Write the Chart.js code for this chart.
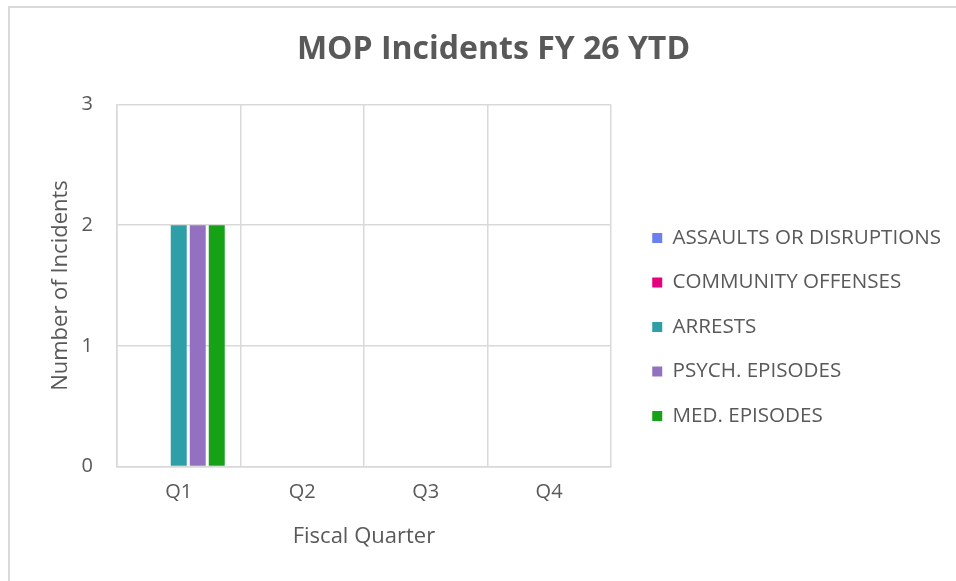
<!DOCTYPE html>
<html>
<head>
<meta charset="utf-8">
<script src="https://cdn.jsdelivr.net/npm/chart.js@4.4.1/dist/chart.umd.min.js"></script>
<style>
  html, body { margin: 0; padding: 0; background: #fff; overflow: hidden; }
  #frame { position: absolute; left: 8px; top: 6px; width: 1200px; height: 800px;
           border-left: 2px solid #d9d9d9; border-top: 2px solid #d9d9d9; }
  #wrap { position: absolute; left: 0; top: 0; width: 956px; height: 581px; }
</style>
</head>
<body>
<div id="frame"></div>
<div id="wrap"><canvas id="chart"></canvas></div>
<script>
// --- Data ---
const quarters = ['Q1', 'Q2', 'Q3', 'Q4'];
const seriesNames = ['ASSAULTS OR DISRUPTIONS', 'COMMUNITY OFFENSES', 'ARRESTS', 'PSYCH. EPISODES', 'MED. EPISODES'];
const assaults = [0, 0, 0, 0];
const communityOffenses = [0, 0, 0, 0];
const arrests = [2, 0, 0, 0];
const psychEpisodes = [2, 0, 0, 0];
const medEpisodes = [2, 0, 0, 0];
const yTicks = [0, 1, 2, 3];

const colors = ['#6a80f0', '#e5007e', '#2e9fa7', '#9471c0', '#17a117'];
const allValues = [assaults, communityOffenses, arrests, psychEpisodes, medEpisodes];

const textColor = '#595959';
const gridColor = '#d9d9d9';
const fontFamily = '"Open Sans", sans-serif';

const datasets = seriesNames.map((name, i) => ({
    label: name,
    data: allValues[i],
    backgroundColor: colors[i],
    borderWidth: 0,
    categoryPercentage: 0.77,
    barPercentage: 0.84
}));

new Chart(document.getElementById('chart'), {
    type: 'bar',
    data: { labels: quarters, datasets: datasets },
    options: {
        responsive: true,
        maintainAspectRatio: false,
        animation: false,
        layout: { padding: { left: 36, right: 5, bottom: 31, top: 0 } },
        plugins: {
            title: {
                display: true,
                text: 'MOP Incidents FY 26 YTD',
                color: textColor,
                font: { family: fontFamily, size: 32, weight: 'bold' },
                padding: { top: 31, bottom: 35 }
            },
            legend: {
                position: 'right',
                maxWidth: 400,
                // empty legend title only pushes the entries down
                title: { display: true, text: ' ', font: { size: 10 }, padding: { top: 92, bottom: 0 } },
                labels: {
                    color: textColor,
                    font: { family: fontFamily, size: 20.6 },
                    boxWidth: 10,
                    boxHeight: 10,
                    padding: 23.9
                }
            },
            tooltip: { enabled: false }
        },
        scales: {
            x: {
                grid: { color: gridColor, lineWidth: 1.5, drawTicks: false },
                border: { color: gridColor, width: 1.5 },
                ticks: { color: textColor, font: { family: fontFamily, size: 20 }, padding: 14 },
                title: {
                    display: true,
                    text: 'Fiscal Quarter',
                    color: textColor,
                    font: { family: fontFamily, size: 22 },
                    padding: { top: 5, bottom: 0 }
                }
            },
            y: {
                min: 0,
                max: 3,
                afterBuildTicks: s => { s.ticks = yTicks.map(v => ({ value: v })); },
                grid: { color: gridColor, lineWidth: 1.5, drawTicks: false },
                border: { color: gridColor, width: 1.5 },
                ticks: { color: textColor, font: { family: fontFamily, size: 20 }, padding: 24 },
                title: {
                    display: true,
                    text: 'Number of Incidents',
                    color: textColor,
                    font: { family: fontFamily, size: 22 },
                    padding: { top: 12, bottom: 0 }
                },
                afterFit: s => { s.width = 81; }
            },
            gap: {
                type: 'linear',
                position: 'right',
                display: true,
                grid: { display: false },
                border: { display: false },
                ticks: { display: false },
                afterFit: s => { s.width = 17.5; }
            }
        }
    }
});
</script>
</body>
</html>
